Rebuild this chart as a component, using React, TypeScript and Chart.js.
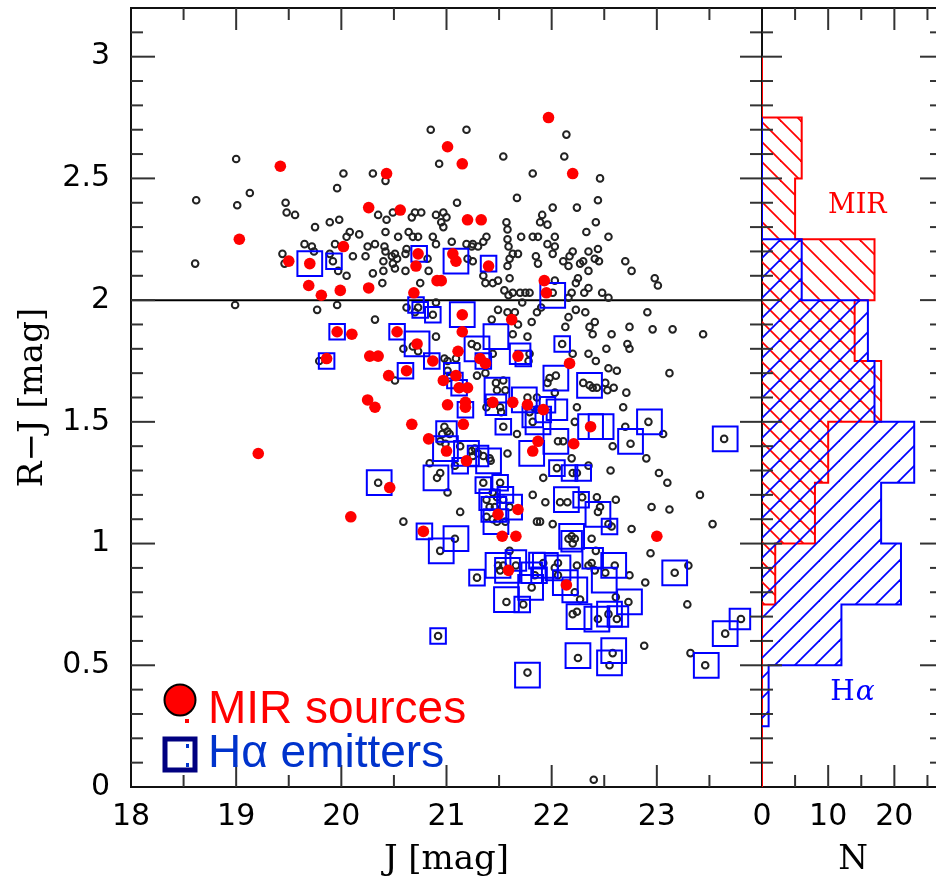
import React, { useEffect, useRef } from 'react';
import { Chart, registerables } from 'chart.js';

Chart.register(...registerables);

// ---------- axes ----------
const jTicks = [18, 19, 20, 21, 22, 23];
const rjTicks = [0, 0.5, 1, 1.5, 2, 2.5, 3];
const nTicks = [0, 10, 20];
const jMin = 18, jMax = 24;
const rjMin = 0, rjMax = 3.2;
const nMin = 0, nMax = 27.5;
const rjCut = 2.0;

// ---------- histograms (R-J bins of 0.25, from top down) ----------
const binWidth = 0.25;
const mirHistTop = 3.0;
const mirHistCounts = [0, 6, 5, 17, 14, 18, 10, 8, 2, 0, 0, 0];
const haHistTop = 2.75;
const haHistCounts = [0, 0, 6, 16, 17, 23, 18, 21, 12, 1];

// ---------- all sources [J, R-J] ----------
const allSources: [number, number][] = [
  [18.62,2.41],[19.00,2.58],[19.13,2.44],[19.01,2.39],[18.61,2.15],[18.99,1.98],[19.47,2.40],[19.48,2.36],[19.56,2.35],[19.44,2.19],
  [19.46,2.15],[19.75,2.30],[19.89,2.32],[19.98,2.33],[19.96,2.46],[20.02,2.52],[20.30,2.52],[20.42,2.49],[19.65,2.23],[19.72,2.22],
  [19.74,2.20],[19.94,2.23],[19.89,2.19],[19.92,2.16],[20.05,2.26],[20.08,2.28],[20.17,2.27],[20.11,2.18],[20.23,2.18],[20.25,2.22],
  [20.32,2.23],[20.41,2.22],[20.30,2.11],[20.40,2.12],[20.40,2.16],[20.39,2.07],[20.05,2.10],[19.97,2.12],[20.42,2.28],[20.35,2.35],
  [20.43,2.33],[20.49,2.36],[20.48,2.18],[20.51,2.19],[20.54,2.26],[19.77,1.96],[19.96,1.98],[20.32,1.92],[19.79,1.75],[20.51,1.67],
  [20.85,2.70],[21.19,2.70],[21.54,2.59],[20.93,2.56],[21.82,2.52],[21.67,2.42],[21.10,2.40],[20.67,2.34],[20.70,2.36],[20.76,2.36],
  [20.90,2.35],[20.97,2.36],[21.00,2.34],[20.95,2.32],[20.97,2.30],[21.57,2.32],[21.58,2.29],[21.91,2.35],[21.89,2.32],[21.96,2.31],
  [20.64,2.28],[20.73,2.26],[20.68,2.26],[20.87,2.26],[20.90,2.23],[21.05,2.24],[21.19,2.23],[21.25,2.23],[21.24,2.22],[21.30,2.22],
  [21.35,2.24],[21.38,2.26],[21.58,2.25],[21.59,2.22],[21.71,2.26],[21.82,2.26],[21.87,2.26],[20.42,2.20],[20.62,2.21],[20.61,2.19],
  [20.53,2.17],[20.49,2.15],[20.51,2.13],[20.61,2.12],[20.82,2.17],[20.83,2.12],[21.20,2.17],[21.25,2.16],[21.63,2.19],[21.68,2.19],
  [21.60,2.17],[21.58,2.14],[21.87,2.15],[21.85,2.18],[21.96,2.23],[21.49,2.08],[21.44,2.07],[21.37,2.07],[21.35,2.10],[21.60,2.09],
  [20.75,2.07],[21.55,2.04],[21.59,2.02],[21.63,2.03],[21.70,2.03],[21.75,2.03],[21.79,2.03],[20.90,1.99],[21.43,1.92],[21.49,1.96],
  [21.58,1.95],[21.65,1.95],[21.86,1.95],[21.90,1.97],[20.62,1.97],[20.73,1.97],[20.70,1.95],[20.87,1.94],[21.72,1.99],
  [22.14,2.68],[22.12,2.59],[22.46,2.50],[22.44,2.41],[22.01,2.38],[22.24,2.38],[22.42,2.32],[22.33,2.28],[22.54,2.26],[22.03,2.26],
  [22.03,2.22],[22.01,2.19],[22.20,2.20],[22.35,2.20],[22.44,2.21],[22.17,2.18],[22.11,2.16],[22.16,2.14],[22.30,2.16],[22.27,2.15],
  [22.41,2.17],[22.45,2.16],[22.35,2.12],[22.70,2.16],[22.76,2.12],[22.98,2.09],[23.01,2.06],[22.25,2.09],[22.23,2.07],[22.35,2.05],
  [22.31,2.03],[22.48,2.03],[22.54,2.01],[22.19,2.03],[22.16,2.01],[22.03,2.08],[22.01,2.03],[22.23,1.96],[22.32,1.95],[22.16,1.93],
  [22.13,1.89],[22.41,1.91],[22.36,1.89],[22.91,1.95],[22.74,1.89],[22.96,1.88],[23.15,1.88],
  [22.39,1.86],[22.57,1.86],[23.44,1.86],[22.72,1.82],[22.74,1.80],[22.52,1.80],[22.20,1.78],[22.35,1.78],[22.42,1.75],[22.10,1.82],
  [22.54,1.72],[22.62,1.71],[23.12,1.70],[22.30,1.66],[22.36,1.65],[22.39,1.64],[22.43,1.64],[22.51,1.66],[22.04,1.69],[21.98,1.68],
  [21.96,1.66],[22.03,1.62],[22.59,1.64],[22.53,1.63],[22.71,1.62],[22.24,1.56],[22.68,1.56],[22.22,1.50],[22.70,1.48],[22.92,1.50],
  [23.06,1.45],[22.75,1.41],[22.58,1.40],[22.90,1.35],[22.19,1.35],[22.06,1.42],[22.11,1.42],[22.35,1.32],[22.24,1.29],[22.20,1.29],
  [22.05,1.31],[21.92,1.27],[22.56,1.30],[23.02,1.29],[23.10,1.25],[23.64,1.43],[23.41,1.20],[23.53,1.08],[21.94,1.17],[22.08,1.17],
  [22.15,1.17],[22.29,1.19],[22.43,1.19],[22.61,1.18],[22.46,1.15],[22.44,1.13],[22.95,1.15],[23.12,1.14],[21.89,1.09],[22.01,1.08],
  [22.54,1.08],[22.57,1.07],[22.76,1.06],[22.19,1.03],[22.22,1.02],[22.16,1.02],[22.20,1.00],[22.38,1.02],[22.42,0.97],[22.94,0.96],
  [20.90,1.85],[20.59,1.80],[20.68,1.81],[20.73,1.79],[21.24,1.82],[21.29,1.81],[21.44,1.78],[21.63,1.86],[21.77,1.85],[21.68,1.90],
  [21.81,1.91],[21.78,1.75],[21.79,1.78],[20.98,1.76],[21.01,1.75],[21.09,1.76],[21.29,1.69],[21.37,1.70],[21.01,1.71],[21.03,1.68],
  [21.47,1.66],[21.54,1.67],[21.48,1.63],[21.56,1.63],[21.77,1.60],[21.86,1.60],[21.51,1.56],[21.52,1.54],[21.38,1.56],[21.40,1.58],
  [21.79,1.54],[21.86,1.55],[21.82,1.50],[21.54,1.48],[21.67,1.45],[20.98,1.48],[21.01,1.46],[20.96,1.45],[21.03,1.45],[20.94,1.42],
  [20.99,1.41],[21.13,1.40],[21.24,1.38],[21.25,1.36],[21.30,1.37],[21.27,1.39],[21.35,1.36],[21.41,1.35],[21.42,1.34],[20.84,1.33],
  [20.94,1.29],[20.91,1.27],[21.08,1.32],[21.58,1.37],[21.35,1.25],[21.51,1.25],[20.35,1.25],[21.01,1.21],[21.44,1.21],[21.48,1.19],
  [21.38,1.18],[21.54,1.18],[21.82,1.20],[21.41,1.15],[21.46,1.15],[21.60,1.15],[21.38,1.11],[21.44,1.10],[21.48,1.09],[21.56,1.09],
  [21.13,1.13],[20.59,1.09],[21.86,1.09],[21.08,1.02],[20.94,0.97],[21.60,0.97],
  [21.29,0.86],[21.49,0.91],[21.54,0.91],[21.51,0.89],[21.66,0.91],[21.84,0.87],[21.81,0.82],[21.57,0.76],[21.73,0.75],[20.92,0.62],
  [21.77,0.47],[21.92,0.92],[22.03,0.90],[22.06,0.87],[22.06,0.92],[22.24,0.91],[22.35,0.91],[22.41,0.89],[22.38,0.92],[22.60,0.91],
  [22.51,0.88],[22.74,0.87],[22.89,0.84],[23.30,0.91],[23.17,0.88],[22.22,0.80],[22.27,0.77],[22.61,0.78],[22.73,0.76],[23.29,0.75],
  [22.24,0.72],[22.20,0.71],[22.44,0.69],[22.62,0.69],[22.54,0.71],[22.58,0.55],[22.55,0.50],[22.25,0.53],[22.88,0.58],[23.32,0.55],
  [23.46,0.50],[23.65,0.63],[23.80,0.69],[22.40,0.03],
];

// ---------- MIR sources [J, R-J] ----------
const mirSources: [number, number][] = [
  [21.97,2.75],[21.01,2.63],[21.15,2.56],[20.43,2.52],[22.20,2.52],[19.42,2.55],[19.03,2.25],[20.26,2.38],[20.56,2.37],[21.20,2.33],
  [21.33,2.33],[20.02,2.22],[20.73,2.19],[21.06,2.19],[21.09,2.16],[21.40,2.14],[20.71,2.14],[19.50,2.16],[19.70,2.15],[19.69,2.06],
  [19.81,2.02],[19.99,2.04],[20.26,2.05],[20.69,2.03],[20.91,2.08],[20.95,2.08],[21.15,1.94],[21.62,1.92],[21.93,2.08],[21.95,2.03],
  [19.96,1.87],[20.10,1.86],[20.53,1.87],[20.72,1.82],[21.15,1.87],[19.86,1.76],[20.27,1.77],[20.35,1.77],[20.87,1.75],[21.11,1.79],
  [21.32,1.76],[21.37,1.74],[21.68,1.77],[22.17,1.74],[20.45,1.69],[20.62,1.71],[20.97,1.67],[21.09,1.69],[21.12,1.64],[21.20,1.64],
  [20.25,1.59],[20.32,1.56],[21.01,1.57],[21.18,1.58],[21.18,1.56],[21.44,1.58],[21.63,1.58],[21.77,1.57],[21.92,1.55],[20.67,1.49],
  [21.16,1.49],[22.37,1.48],[20.83,1.43],[21.00,1.38],[21.19,1.34],[21.87,1.42],[21.82,1.38],[22.21,1.41],[19.21,1.37],[20.46,1.23],
  [20.09,1.11],[20.78,1.05],[21.49,1.12],[21.68,1.14],[21.53,1.03],[21.66,1.03],[21.59,0.89],[22.14,0.83],[23.00,1.03],
];

// ---------- H-alpha emitters [J, R-J] and marker size class (1 small, 2 medium, 3 large) ----------
const haEmitters: [number, number][] = [
  [19.70,2.15],[19.93,2.16],[20.74,2.19],[21.09,2.16],[21.40,2.15],[22.01,2.02],
  [20.71,1.98],[20.75,1.96],[20.87,1.94],[21.15,1.94],[19.96,1.87],[19.86,1.75],[20.53,1.87],[20.72,1.82],[20.86,1.75],[21.29,1.80],
  [21.47,1.85],[21.35,1.75],[21.70,1.78],[21.73,1.76],[22.10,1.82],
  [22.04,1.68],[22.36,1.65],[20.61,1.71],[21.05,1.71],[21.12,1.64],[21.48,1.63],[21.47,1.57],[21.18,1.55],[21.74,1.59],[21.82,1.52],
  [21.96,1.57],[22.05,1.55],[21.92,1.53],[21.08,1.67],
  [22.37,1.48],[22.47,1.48],[22.93,1.50],[22.75,1.42],[23.65,1.43],[22.04,1.42],[21.54,1.48],[21.00,1.46],[20.99,1.39],[21.19,1.37],
  [21.30,1.36],[21.40,1.34],[21.13,1.32],[21.81,1.37],[22.05,1.31],[22.17,1.29],[22.30,1.29],[20.90,1.27],[21.87,1.50],
  [20.36,1.25],[21.35,1.24],[21.51,1.25],[21.41,1.18],[21.45,1.14],[21.60,1.15],[21.47,1.09],[20.79,1.05],[21.09,1.02],[22.14,1.18],
  [22.28,1.18],[22.44,1.12],[22.55,1.07],[22.19,1.03],[22.19,1.01],[21.56,1.20],
  [20.95,0.97],[21.29,0.86],[21.49,0.91],[21.58,0.89],[21.66,0.93],[21.81,0.88],[21.88,0.87],[21.86,0.93],[21.80,0.82],[21.57,0.77],
  [21.72,0.75],[21.94,0.91],[22.06,0.90],[22.13,0.84],[22.39,0.94],[22.59,0.91],[22.22,0.81],[22.50,0.85],[22.74,0.76],[23.17,0.88],
  [22.26,0.70],[22.43,0.69],[22.55,0.71],[22.63,0.70],[20.92,0.62],[22.59,0.56],[22.25,0.54],[23.65,0.63],[23.79,0.69],[22.55,0.51],
  [21.77,0.46],[23.47,0.50],
];
const haSizeClass: number[] = [
  3,1,1,3,1,3,
  1,1,1,3,1,1,1,3,1,3,3,1,2,1,1,
  3,3,1,1,1,3,2,1,3,2,1,2,1,1,
  3,3,3,3,3,3,1,2,3,3,2,3,1,3,1,1,1,3,3,
  3,1,1,2,3,3,3,1,3,3,1,3,1,3,2,1,
  3,1,3,3,2,2,1,1,3,3,1,3,3,3,2,3,3,3,3,3,
  3,3,3,2,1,3,3,3,2,3,3,3,
];

const squareRadius: Record<number, number> = { 1: 11, 2: 14.5, 3: 17.5 };

function histOutline(top: number, counts: number[]) {
  const pts: { x: number; y: number }[] = [{ x: 0, y: top }];
  counts.forEach((c, i) => {
    const hi = top - i * binWidth;
    const lo = hi - binWidth;
    pts.push({ x: c, y: hi }, { x: c, y: lo });
  });
  pts.push({ x: 0, y: top - counts.length * binWidth });
  return pts;
}

function hatch(color: string, dir: 'back' | 'fwd') {
  const s = 20;
  const c = document.createElement('canvas');
  c.width = s; c.height = s;
  const g = c.getContext('2d')!;
  g.strokeStyle = color;
  g.lineWidth = 1.8;
  for (let k = -1; k <= 1; k++) {
    g.beginPath();
    if (dir === 'back') { g.moveTo(k * s - 5, -5); g.lineTo(k * s + s + 5, s + 5); }
    else { g.moveTo(k * s - 5, s + 5); g.lineTo(k * s + s + 5, -5); }
    g.stroke();
  }
  return g.createPattern(c, 'repeat')!;
}

const tickFont = { family: 'DejaVu Sans', size: 30 };
const titleFont = { family: 'DejaVu Serif', size: 34, lineHeight: 1 };

function fitX(s: any) { s.height = 93; s.paddingLeft = 0; s.paddingRight = 0; s.paddingTop = 0; s.paddingBottom = 0; }
function fitY(s: any) { s.width = 131; s.paddingTop = 0; s.paddingBottom = 0; s.paddingLeft = 0; s.paddingRight = 0; }

function vTicks(ctx: CanvasRenderingContext2D, x: number, dir: number, ys: any, major: number, minor: number) {
  for (let k = 1; k < 32; k++) {
    const v = k / 10;
    const len = k % 5 === 0 ? major : minor;
    const py = ys.getPixelForValue(v);
    ctx.beginPath(); ctx.moveTo(x, py); ctx.lineTo(x + dir * len, py); ctx.stroke();
  }
}

const mainDecor = {
  id: 'mainDecor',
  beforeDatasetsDraw(chart: any) {
    const { ctx, chartArea: a, scales: { y } } = chart;
    ctx.save();
    ctx.strokeStyle = '#000'; ctx.lineWidth = 2;
    const py = y.getPixelForValue(rjCut);
    ctx.beginPath(); ctx.moveTo(a.left, py); ctx.lineTo(a.right, py); ctx.stroke();
    ctx.restore();
  },
  afterDraw(chart: any) {
    const { ctx, chartArea: a, scales: { x, y } } = chart;
    ctx.save();
    ctx.strokeStyle = '#111'; ctx.lineWidth = 2;
    ctx.strokeRect(a.left, a.top, a.right - a.left, a.bottom - a.top);
    ctx.strokeStyle = '#333';
    vTicks(ctx, a.left, 1, y, 24, 12);
    vTicks(ctx, a.right, -1, y, 22, 12);
    for (let v = jMin + 0.5; v < jMax; v += 0.5) {
      const px = x.getPixelForValue(v);
      const len = Number.isInteger(v) ? 22 : 12;
      ctx.beginPath(); ctx.moveTo(px, a.bottom); ctx.lineTo(px, a.bottom - len); ctx.stroke();
      ctx.beginPath(); ctx.moveTo(px, a.top); ctx.lineTo(px, a.top + len); ctx.stroke();
    }
    // legend
    const cx = a.left + 49, cy = a.bottom - 87;
    ctx.fillStyle = '#ff0000'; ctx.strokeStyle = '#000'; ctx.lineWidth = 2;
    ctx.beginPath(); ctx.arc(cx, cy, 15.5, 0, Math.PI * 2); ctx.fill(); ctx.stroke();
    ctx.fillRect(cx + 5, cy + 19, 4, 4);
    ctx.strokeStyle = '#000080'; ctx.lineWidth = 5;
    ctx.strokeRect(a.left + 34, a.bottom - 48, 30, 31);
    ctx.fillStyle = '#0033cc';
    ctx.fillRect(a.left + 55, a.bottom - 43, 3, 4);
    ctx.fillRect(a.left + 55, a.bottom - 24, 3, 4);
    ctx.font = '46px "Liberation Sans", Arial, sans-serif';
    ctx.textBaseline = 'alphabetic'; ctx.textAlign = 'left';
    ctx.fillStyle = '#ff0000';
    ctx.fillText('MIR sources', a.left + 77, a.bottom - 64);
    ctx.fillStyle = '#0033cc';
    ctx.fillText('Hα emitters', a.left + 77, a.bottom - 20);
    ctx.restore();
  },
};

const histDecor = {
  id: 'histDecor',
  beforeDatasetsDraw(chart: any) {
    const { ctx, chartArea: a } = chart;
    ctx.save();
    ctx.strokeStyle = '#111'; ctx.lineWidth = 2;
    ctx.strokeRect(a.left, a.top, a.right - a.left, a.bottom - a.top);
    ctx.restore();
  },
  afterDatasetsDraw(chart: any) {
    const { ctx, chartArea: a, scales: { x, y } } = chart;
    ctx.save();
    ctx.strokeStyle = '#333'; ctx.lineWidth = 2;
    vTicks(ctx, a.left, 1, y, 20, 11);
    vTicks(ctx, a.right, -1, y, 24, 14);
    for (let v = 5; v < nMax; v += 5) {
      const px = x.getPixelForValue(v);
      const len = v % 10 === 0 ? 22 : 12;
      ctx.beginPath(); ctx.moveTo(px, a.bottom); ctx.lineTo(px, a.bottom - len); ctx.stroke();
      ctx.beginPath(); ctx.moveTo(px, a.top); ctx.lineTo(px, a.top + len); ctx.stroke();
    }
    ctx.textBaseline = 'middle'; ctx.textAlign = 'center';
    ctx.fillStyle = '#ff0000';
    ctx.font = '27px "DejaVu Serif", serif';
    ctx.fillText('MIR', x.getPixelForValue(14.4), y.getPixelForValue(2.385));
    // H alpha label
    const hx = x.getPixelForValue(13.6), hy = y.getPixelForValue(0.386);
    ctx.fillStyle = '#0000ff';
    ctx.font = '28px "DejaVu Serif", serif';
    const wH = ctx.measureText('H').width;
    ctx.font = 'italic 28px "DejaVu Serif", serif';
    const wA = ctx.measureText('α').width;
    const left = hx - (wH + wA) / 2;
    ctx.textAlign = 'left';
    ctx.font = '28px "DejaVu Serif", serif';
    ctx.fillText('H', left, hy);
    ctx.font = 'italic 28px "DejaVu Serif", serif';
    ctx.fillText('α', left + wH + 1, hy);
    ctx.restore();
  },
};

export default function App() {
  const refA = useRef<HTMLCanvasElement>(null);
  const refB = useRef<HTMLCanvasElement>(null);

  useEffect(() => {
    const chartA = new Chart(refA.current!, {
      type: 'scatter',
      data: {
        datasets: [
          {
            label: 'MIR sources',
            data: mirSources.map(([x, y]) => ({ x, y })),
            pointRadius: 5.8, pointHoverRadius: 5.8,
            pointBackgroundColor: '#ff0000', pointBorderWidth: 0,
            order: 0,
          },
          {
            label: 'Hα emitters',
            data: haEmitters.map(([x, y]) => ({ x, y })),
            pointStyle: 'rect',
            pointRadius: haSizeClass.map((c) => squareRadius[c]),
            pointHoverRadius: haSizeClass.map((c) => squareRadius[c]),
            pointBackgroundColor: 'rgba(0,0,0,0)', pointBorderColor: '#0000ff', pointBorderWidth: 2,
            order: 1,
          },
          {
            label: 'all sources',
            data: allSources.map(([x, y]) => ({ x, y })),
            pointRadius: 3.3, pointHoverRadius: 3.3,
            pointBackgroundColor: 'rgba(0,0,0,0)', pointBorderColor: '#222', pointBorderWidth: 2,
            order: 2,
          },
        ] as any,
      },
      options: {
        responsive: false, animation: false, devicePixelRatio: 1, events: [],
        layout: { autoPadding: false, padding: { top: 8, right: 8, left: 0, bottom: 0 } },
        plugins: { legend: { display: false }, tooltip: { enabled: false } },
        scales: {
          x: {
            type: 'linear', min: jMin, max: jMax,
            grid: { display: false, drawTicks: false }, border: { display: false },
            afterBuildTicks: (s: any) => { s.ticks = jTicks.map((v) => ({ value: v })); },
            afterFit: fitX,
            ticks: { font: tickFont, color: '#000', padding: 12, maxRotation: 0, autoSkip: false, callback: (v: any) => String(v) },
            title: { display: true, text: 'J [mag]', font: titleFont, color: '#000', padding: { top: 0, bottom: 3 } },
          },
          y: {
            type: 'linear', min: rjMin, max: rjMax,
            grid: { display: false, drawTicks: false }, border: { display: false },
            afterBuildTicks: (s: any) => { s.ticks = rjTicks.map((v) => ({ value: v })); },
            afterFit: fitY,
            ticks: { font: tickFont, color: '#000', padding: 21, autoSkip: false, callback: (v: any) => String(v) },
            title: { display: true, text: 'R−J [mag]', font: titleFont, color: '#000', padding: { top: 16, bottom: 0 } },
          },
        },
      } as any,
      plugins: [mainDecor],
    });

    const redHatch = hatch('#ff0000', 'back');
    const blueHatch = hatch('#0000ff', 'fwd');

    const chartB = new Chart(refB.current!, {
      type: 'line',
      data: {
        datasets: [
          {
            label: 'MIR',
            data: histOutline(mirHistTop, mirHistCounts),
            borderColor: '#ff0000', borderWidth: 2, backgroundColor: redHatch,
            fill: 'origin', pointRadius: 0, tension: 0, order: 1,
          },
          {
            label: 'Hα',
            data: histOutline(haHistTop, haHistCounts),
            borderColor: '#0000ff', borderWidth: 2, backgroundColor: blueHatch,
            fill: 'origin', pointRadius: 0, tension: 0, order: 0,
          },
        ] as any,
      },
      options: {
        indexAxis: 'y',
        responsive: false, animation: false, devicePixelRatio: 1, events: [],
        layout: { autoPadding: false, padding: { top: 8, right: 16, left: 22, bottom: 0 } },
        plugins: { legend: { display: false }, tooltip: { enabled: false } },
        scales: {
          x: {
            type: 'linear', min: nMin, max: nMax,
            grid: { display: false, drawTicks: false }, border: { display: false },
            afterBuildTicks: (s: any) => { s.ticks = nTicks.map((v) => ({ value: v })); },
            afterFit: fitX,
            ticks: { font: tickFont, color: '#000', padding: 12, maxRotation: 0, autoSkip: false, callback: (v: any) => String(v) },
            title: { display: true, text: 'N', font: titleFont, color: '#000', padding: { top: 0, bottom: 3 } },
          },
          y: { type: 'linear', min: rjMin, max: rjMax, display: false },
        },
      } as any,
      plugins: [histDecor],
    });

    return () => { chartA.destroy(); chartB.destroy(); };
  }, []);

  return (
    <div style={{ position: 'fixed', left: 0, top: 0, width: 936, height: 880, overflow: 'hidden', background: '#fff' }}>
      <canvas ref={refA} width={770} height={880} style={{ position: 'absolute', left: 0, top: 0, width: 770, height: 880 }} />
      <canvas ref={refB} width={220} height={880} style={{ position: 'absolute', left: 740, top: 0, width: 220, height: 880 }} />
    </div>
  );
}
